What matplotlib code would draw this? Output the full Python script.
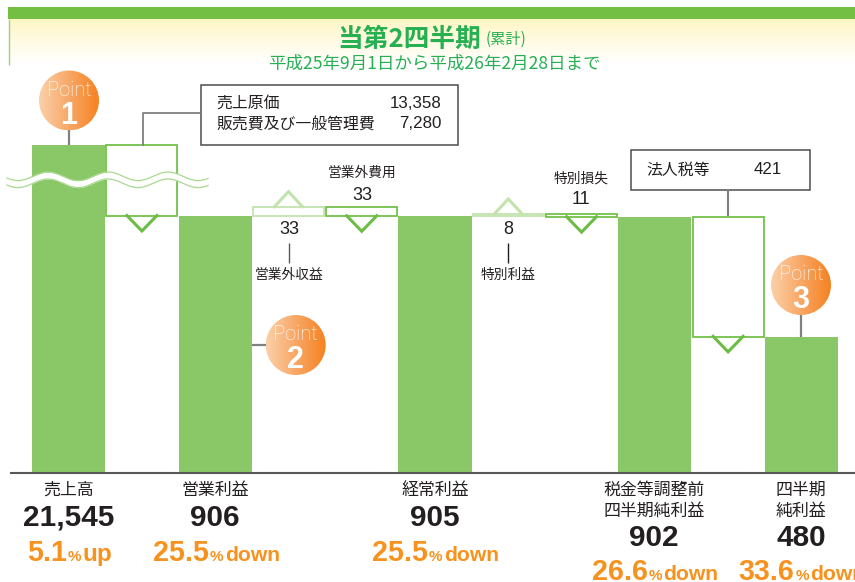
import numpy             as np
import matplotlib
matplotlib.use('Agg')
import matplotlib.pyplot as plt
from matplotlib.patches import Circle, Rectangle
from matplotlib.colors  import LinearSegmentedColormap

W, H = 855, 582
BASE_Y = 473
PX_PER_UNIT = 0.28366
BREAK_AT = 1000
BREAK_K = 0.00761

GREEN_BAR  = '#8AC867'
GREEN_EDGE = '#74C04A'
GREEN_PALE = '#C2E3AE'
GREEN_V    = '#6CBD45'
TITLE_COL  = '#27B052'
ORANGE     = '#F8921E'
DARK       = '#231F20'

CJK  = ['Noto Sans CJK JP', 'DejaVu Sans']
LATN = ['Liberation Sans', 'DejaVu Sans']
plt.rcParams['font.family'] = CJK

# waterfall data
total_pos  = [0, 2, 5, 8, 10]
total_vals = [21545, 906, 905, 902, 480]
total_labels = [['売上高'], ['営業利益'], ['経常利益'],
                ['税金等調整前', '四半期純利益'], ['四半期', '純利益']]
total_text = ['21,545', '906', '905', '902', '480']
change_num  = ['5.1', '25.5', '25.5', '26.6', '33.6']
change_word = ['up', 'down', 'down', 'down', 'down']

float_pos    = [1, 3, 4, 6, 7, 9]
float_bottom = [906, 906, 905, 905, 902, 480]
float_size   = [20638, 33, 33, 8, 11, 421]
float_gain   = [False, True, False, True, False, False]

cost_names = ['売上原価', '販売費及び一般管理費']
cost_vals  = ['13,358', '7,280']


def forward(v):
    v = np.asarray(v, dtype=float)
    return np.where(v <= BREAK_AT, v, BREAK_AT + (v - BREAK_AT) * BREAK_K)


def inverse(v):
    v = np.asarray(v, dtype=float)
    return np.where(v <= BREAK_AT, v, BREAK_AT + (v - BREAK_AT) / BREAK_K)


fig = plt.figure(figsize=(W / 100, H / 100), dpi=100)

ax = fig.add_axes([32 / W, (H - BASE_Y) / H, 806 / W, BASE_Y / H])
ax.set_xlim(-0.5, 10.5)
ax.set_yscale('function', functions=(forward, inverse))
ax.set_ylim(0, float(inverse(BASE_Y / PX_PER_UNIT)))
ax.set_axis_off()

ax.bar(total_pos, total_vals, width=1.0, color=GREEN_BAR, linewidth=0)

for i, b, s, gain in zip(float_pos, float_bottom, float_size, float_gain):
    ax.bar(i, s, bottom=b, width=0.97, color='white',
           edgecolor=GREEN_PALE if gain else GREEN_EDGE, linewidth=1.3)

# overlay in reference pixels for the decoration
px = fig.add_axes([0, 0, 1, 1], zorder=5)
px.patch.set_alpha(0)
px.set_axis_off()


def toPx(i, v):
    x, y = ax.transData.transform((i, v))
    return float(x), H - float(y)


def vLine(x0, y0, x1, y1, c='#808080', lw=1.5):
    px.plot([x0, x1], [y0, y1], color=c, lw=lw, solid_capstyle='butt')


# header
px.add_patch(Rectangle((8, 7), 847, 12, color='#72BF44', lw=0))
grad = np.linspace(0, 1, 64)[:, None]
cm = LinearSegmentedColormap.from_list('hdr', ['#FFF6C4', '#FFFBE4', '#FFFFFF'])
px.imshow(grad, cmap=cm, extent=(9, 855, 64, 19), aspect='auto', zorder=0)
vLine(8.5, 19, 8.5, 65, c='#9AD27A', lw=1)

px.text(409, 39.5, '当第2四半期', ha='center', va='center', fontsize=18.5,
        fontweight='bold', color=TITLE_COL)
px.text(506, 39, '(累計)', ha='center', va='center', fontsize=11, color=TITLE_COL)
px.text(434.5, 63.5, '平成25年9月1日から平成26年2月28日まで', ha='center', va='center',
        fontsize=12.6, color=TITLE_COL)

# axis line
vLine(10, BASE_Y, 855, BASE_Y, c='#595757', lw=1.5)

# wave break
xw = np.linspace(7, 208, 300)
upper = 176.3 - 4.3 * np.cos(2 * np.pi * (xw - 48) / 60)
lower = upper + 7
px.fill_between(xw, upper, lower, color='white', lw=0)
px.plot(xw, upper, color='#A9D990', lw=0.9)
px.plot(xw, lower, color='#A9D990', lw=0.9)

# chevrons on each step
for i, b, s, gain in zip(float_pos, float_bottom, float_size, float_gain):
    if gain:
        x, y = toPx(i, b + s)
        px.plot([x - 14, x, x + 14], [y, y - 15, y], color=GREEN_PALE, lw=2.2,
                solid_joinstyle='miter')
    else:
        x, y = toPx(i, b)
        px.plot([x - 15, x, x + 15], [y - 0.5, y + 15, y - 0.5], color=GREEN_V, lw=2.2,
                solid_joinstyle='miter')

# callouts
px.add_patch(Rectangle((200.5, 84.5), 257, 60, fc='white', ec='#4D4D4D', lw=1.1))
for name, val, y in zip(cost_names, cost_vals, [103, 124]):
    px.text(216, y, name, va='center', fontsize=11.4, color=DARK)
    px.text(441, y, val, ha='right', va='center', fontsize=12.2, family=LATN, color=DARK)
px.plot([200, 143, 143], [113, 113, 145], color='#808080', lw=1.3)

px.add_patch(Rectangle((630.5, 149.5), 179, 40, fc='white', ec='#4D4D4D', lw=1.1))
px.text(646, 170, '法人税等', va='center', fontsize=11.4, color=DARK)
px.text(768, 170, '421', ha='center', va='center', fontsize=12.2, family=LATN, color=DARK)
vLine(728, 189, 728, 216)

# step labels
px.text(362, 173, '営業外費用', ha='center', va='center', fontsize=9.9, color=DARK)
px.text(362, 196, '33', ha='center', va='center', fontsize=13, family=LATN, color=DARK)
px.text(581, 179, '特別損失', ha='center', va='center', fontsize=9.9, color=DARK)
px.text(581, 199, '11', ha='center', va='center', fontsize=13, family=LATN, color=DARK)
px.text(289, 230, '33', ha='center', va='center', fontsize=13, family=LATN, color=DARK)
vLine(289, 243, 289, 263, c='#595757', lw=1)
px.text(289, 275, '営業外収益', ha='center', va='center', fontsize=9.9, color=DARK)
px.text(508, 230, '8', ha='center', va='center', fontsize=13, family=LATN, color=DARK)
vLine(508, 243, 508, 263, c='#231F20', lw=1)
px.text(508, 275, '特別利益', ha='center', va='center', fontsize=9.9, color=DARK)

# point badges
cm2 = LinearSegmentedColormap.from_list('pt', ['#FBD0A8', '#F8A765', '#F58220'])
for num, cx, cy in [('1', 69, 100.5), ('2', 295.7, 345), ('3', 801, 285)]:
    im = px.imshow(np.linspace(0, 1, 64)[None, :], cmap=cm2, aspect='auto', zorder=3,
                   extent=(cx - 30, cx + 30, cy + 30, cy - 30))
    im.set_clip_path(Circle((cx, cy), 30, transform=px.transData))
    px.text(cx, cy - 10, 'Point', ha='center', va='center', fontsize=14.5, color='white',
            family=['Roboto', 'DejaVu Sans'], fontweight='light', zorder=4)
    px.text(cx, cy + 15.5, num, ha='center', va='center', fontsize=22, color='white',
            family=LATN, fontweight='bold', zorder=4)
vLine(69, 130, 69, 145, lw=1.6)
vLine(252, 345, 266, 345, lw=1.6)
vLine(801, 315, 801, 337, lw=1.6)

# bottom labels
label_x = [69, 215, 435, 654, 801]
num_y   = [518, 518, 518, 538, 538]
base_y  = [561, 561, 561, 580, 580]
seg_x   = [(27, 68, 82), (153, 210, 225), (372, 429, 444), (592, 649, 663), (738, 796, 810)]

for k in range(len(total_pos)):
    for j, line in enumerate(total_labels[k]):
        px.text(label_x[k], 490 + j * 21, line, ha='center', va='center',
                fontsize=12.2, color=DARK)
    px.text(label_x[k], num_y[k], total_text[k], ha='center', va='center', fontsize=21.4,
            family=LATN, fontweight='bold', color=DARK)
    x0, x1, x2 = seg_x[k]
    px.text(x0, base_y[k], change_num[k], va='baseline', fontsize=20.7, family=LATN,
            fontweight='bold', color=ORANGE)
    px.text(x1, base_y[k], '%', va='baseline', fontsize=11, family=LATN,
            fontweight='bold', color=ORANGE)
    px.text(x2, base_y[k], change_word[k], va='baseline',
            fontsize=17.5 if change_word[k] == 'up' else 15.2, family=LATN,
            fontweight='bold', color=ORANGE)

px.set_xlim(0, W)
px.set_ylim(H, 0)

fig.savefig('out.png', dpi=100)
plt.close('all')
